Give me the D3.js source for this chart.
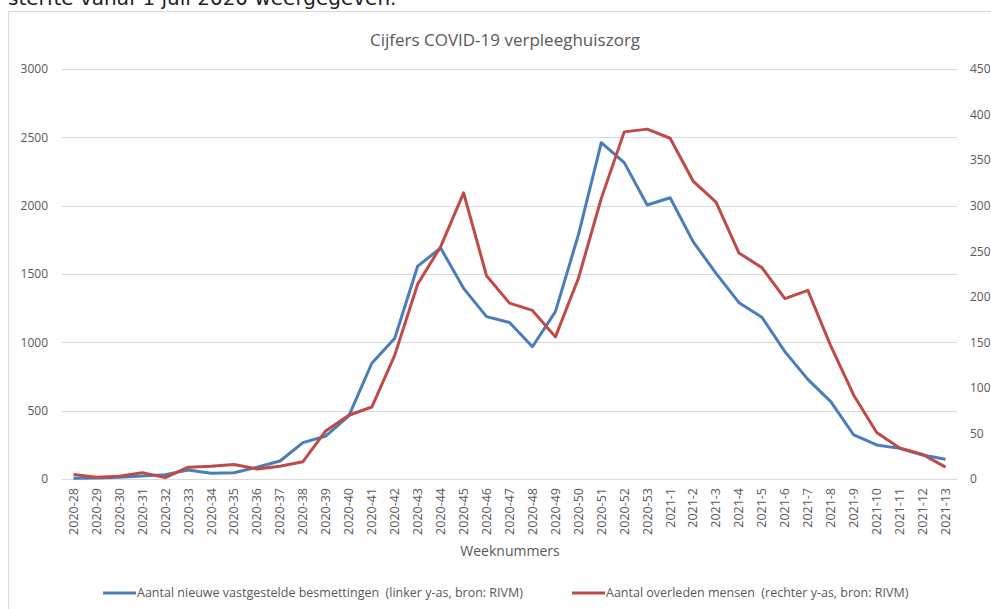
<!DOCTYPE html>
<html>
<head>
<meta charset="utf-8">
<script src="https://cdn.jsdelivr.net/npm/d3@7"></script>
<style>
	body { margin: 0; background: #fff; overflow: hidden; }
	svg { display: block; }
	.axis text { fill: #595959; font-family: "Open Sans", sans-serif; }
	.axis path, .axis line { display: none; }
</style>
</head>
<body>
<div class="chart"></div>
<script>
const weeks = ["2020-28","2020-29","2020-30","2020-31","2020-32","2020-33","2020-34","2020-35","2020-36","2020-37",
	"2020-38","2020-39","2020-40","2020-41","2020-42","2020-43","2020-44","2020-45","2020-46","2020-47",
	"2020-48","2020-49","2020-50","2020-51","2020-52","2020-53","2021-1","2021-2","2021-3","2021-4",
	"2021-5","2021-6","2021-7","2021-8","2021-9","2021-10","2021-11","2021-12","2021-13"]

// nieuwe besmettingen (linker y-as)
const besmettingen = [5, 8, 13, 22, 32, 66, 42, 46, 86, 132,
	266, 315, 462, 847, 1030, 1558, 1690, 1395, 1188, 1145,
	968, 1225, 1785, 2461, 2315, 2005, 2058, 1737, 1505, 1290,
	1183, 932, 729, 566, 322, 249, 224, 176, 144]

// overleden (rechter y-as)
const overleden = [5, 2, 3, 7, 1.5, 13, 14, 16, 11, 14,
	19, 53, 70, 79, 136, 214, 255, 314, 223, 193,
	185, 156, 220, 308, 381, 384, 374, 327, 304, 248,
	232, 198, 207, 146, 92, 51, 34, 27, 13]

const leftTicks = [0, 500, 1000, 1500, 2000, 2500, 3000]
const rightTicks = [0, 50, 100, 150, 200, 250, 300, 350, 400, 450]

const blue = "#4a7ebb"
const red = "#be4b48"

let width = 991, height = 609

let svg = d3.select(".chart").append("svg")
	.attr("width", width)
	.attr("height", height)

// tekst boven de grafiek (afgesneden, zoals in het origineel)
svg.append("text")
	.attr("x", 8)
	.attr("y", 5)
	.attr("font-family", "DejaVu Sans, sans-serif")
	.attr("font-size", 20)
	.attr("fill", "#222")
	.text("sterfte vanaf 1 juli 2020 weergegeven.")

// kader
svg.append("rect")
	.attr("x", 8.5)
	.attr("y", 11.5)
	.attr("width", 1000)
	.attr("height", 620)
	.attr("fill", "#fff")
	.attr("stroke", "#d9d9d9")

let x = d3.scaleBand()
	.domain(weeks)
	.range([62, 957])

let yLeft = d3.scaleLinear()
	.domain([0, 3000])
	.range([479, 69])

let yRight = d3.scaleLinear()
	.domain([0, 450])
	.range([479, 69])

// gridlines
svg.append("g")
	.selectAll("line")
	.data(leftTicks)
	.enter()
		.append("line")
		.attr("x1", 62)
		.attr("x2", 957)
		.attr("y1", d => Math.round(yLeft(d)) + 0.5)
		.attr("y2", d => Math.round(yLeft(d)) + 0.5)
		.attr("stroke", "#d9d9d9")
		.attr("stroke-width", 1)

let leftG = svg.append("g")
	.attr("class", "axis")
	.attr("transform", "translate(62,0)")
	.call(d3.axisLeft(yLeft).tickValues(leftTicks).tickFormat(d3.format("d")).tickSize(0).tickPadding(14))
leftG.selectAll("text").attr("font-size", 12)

let rightG = svg.append("g")
	.attr("class", "axis")
	.attr("transform", "translate(957,0)")
	.call(d3.axisRight(yRight).tickValues(rightTicks).tickFormat(d3.format("d")).tickSize(0).tickPadding(13))
rightG.selectAll("text").attr("font-size", 12)

let xG = svg.append("g")
	.attr("class", "axis")
	.attr("transform", "translate(0,479)")
	.call(d3.axisBottom(x).tickSize(0))
xG.selectAll("text")
	.attr("font-size", 12.5)
	.attr("transform", "rotate(-90)")
	.attr("x", -9)
	.attr("y", 0)
	.attr("dy", "0.35em")
	.style("text-anchor", "end")

// lijnen
let lineLeft = d3.line()
	.x((d, i) => x(weeks[i]) + x.bandwidth() / 2)
	.y(d => yLeft(d))

let lineRight = d3.line()
	.x((d, i) => x(weeks[i]) + x.bandwidth() / 2)
	.y(d => yRight(d))

svg.append("path")
	.datum(besmettingen)
	.attr("fill", "none")
	.attr("stroke", blue)
	.attr("stroke-width", 3)
	.attr("stroke-linejoin", "round")
	.attr("d", lineLeft)

svg.append("path")
	.datum(overleden)
	.attr("fill", "none")
	.attr("stroke", red)
	.attr("stroke-width", 3)
	.attr("stroke-linejoin", "round")
	.attr("d", lineRight)

// titels
svg.append("text")
	.attr("x", 505)
	.attr("y", 46)
	.attr("text-anchor", "middle")
	.attr("font-family", "Open Sans, sans-serif")
	.attr("font-size", 17)
	.attr("fill", "#595959")
	.text("Cijfers COVID-19 verpleeghuiszorg")

svg.append("text")
	.attr("x", 510)
	.attr("y", 556)
	.attr("text-anchor", "middle")
	.attr("font-family", "Open Sans, sans-serif")
	.attr("font-size", 14)
	.attr("fill", "#595959")
	.text("Weeknummers")

// legenda
let legend = [
	{ label: "Aantal nieuwe vastgestelde besmettingen  (linker y-as, bron: RIVM)", color: blue, x: 103 },
	{ label: "Aantal overleden mensen  (rechter y-as, bron: RIVM)", color: red, x: 572 }
]

let lg = svg.append("g")
	.selectAll("g")
	.data(legend)
	.enter()
		.append("g")
		.attr("transform", d => "translate(" + d.x + ",593)")

lg.append("line")
	.attr("x1", 0)
	.attr("x2", 33)
	.attr("stroke", d => d.color)
	.attr("stroke-width", 3)

lg.append("text")
	.attr("x", 34)
	.attr("dy", "0.35em")
	.attr("font-family", "Open Sans, sans-serif")
	.attr("font-size", 12.5)
	.attr("fill", "#595959")
	.style("white-space", "pre")
	.text(d => d.label)
</script>
</body>
</html>
